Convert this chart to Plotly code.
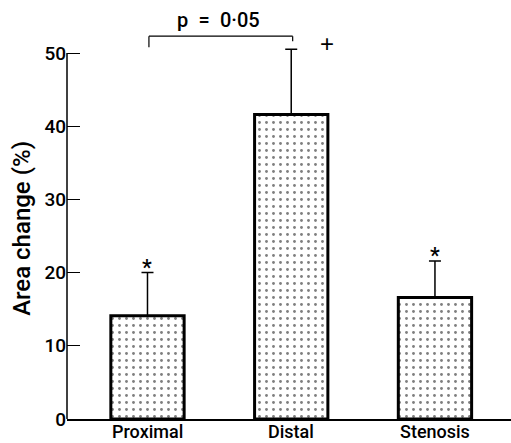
import plotly.graph_objects as go

categories = ["Proximal", "Distal", "Stenosis"]
area_change = [14.1, 41.6, 16.6]
sem_upper = [5.9, 8.9, 5.0]
ytick_vals = [0, 10, 20, 30, 40, 50]

FONT = "Roboto, Liberation Sans, Arial, sans-serif"
W = 500

fig = go.Figure()
fig.add_trace(go.Bar(
    x=list(range(len(categories))),
    y=area_change,
    width=0.51,
    marker=dict(
        color="white",
        line=dict(color="black", width=3),
        pattern=dict(shape=".", fgcolor="black", bgcolor="white", size=7, solidity=0.13),
    ),
    error_y=dict(type="data", symmetric=False, array=sem_upper, arrayminus=[0, 0, 0],
                 color="black", thickness=1.5, width=6),
    cliponaxis=False,
    showlegend=False,
))

shapes = [
    # y axis line from 0 to 50
    dict(type="line", xref="paper", yref="y", x0=0, x1=0, y0=0, y1=50,
         line=dict(color="black", width=1.5)),
    # bracket
    dict(type="line", xref="x", yref="y", x0=0.01, x1=0.01, y0=50.8, y1=52.3,
         line=dict(color="black", width=1.2)),
    dict(type="line", xref="x", yref="y", x0=0.01, x1=1.01, y0=52.3, y1=52.3,
         line=dict(color="black", width=1.2)),
    dict(type="line", xref="x", yref="y", x0=1.01, x1=1.01, y0=51.6, y1=52.3,
         line=dict(color="black", width=1.2)),
]

annotations = [
    dict(x=0.494, y=54.5, xref="x", yref="y", text="p\u2002=\u20020·05", showarrow=False,
         font=dict(size=20, color="black", family=FONT, weight=W)),
    dict(x=1.249, y=51.3, xref="x", yref="y", text="+", showarrow=False,
         font=dict(size=24, color="black", family="Liberation Sans, Arial")),
    dict(x=0, y=area_change[0] + sem_upper[0], xref="x", yref="y", text="*", showarrow=False,
         yanchor="bottom", yshift=-9, font=dict(size=22, color="black", family=FONT, weight=W)),
    dict(x=2, y=area_change[2] + sem_upper[2], xref="x", yref="y", text="*", showarrow=False,
         yanchor="bottom", yshift=-9, font=dict(size=22, color="black", family=FONT, weight=W)),
    dict(x=-0.101, y=26, xref="paper", yref="y", text="Area change (%)", showarrow=False,
         textangle=-90, xanchor="center", yanchor="middle",
         font=dict(size=24, color="black", family=FONT, weight=W)),
]
# category labels under the x axis
for i, name in enumerate(categories):
    annotations.append(dict(x=i, y=0, xref="x", yref="y", text=name, showarrow=False,
                            yanchor="top", yshift=-1, borderpad=0,
                            font=dict(size=18, color="black", family=FONT, weight=W)))

fig.update_layout(
    width=511, height=443,
    margin=dict(l=67, r=0, t=0, b=24),
    plot_bgcolor="white", paper_bgcolor="white",
    font=dict(family=FONT, color="black", size=18, weight=W),
    shapes=shapes,
    annotations=annotations,
    xaxis=dict(
        range=[-0.56, 2.529],
        tickvals=list(range(len(categories))),
        showticklabels=False,
        showline=True, linecolor="black", linewidth=1.5,
        ticks="", showgrid=False, zeroline=False, automargin=False,
    ),
    yaxis=dict(
        range=[0, 57.24],
        tickvals=ytick_vals,
        ticks="inside", ticklen=13, tickwidth=1.2, tickcolor="black",
        showline=False, showgrid=False, zeroline=False, automargin=False,
        tickfont=dict(size=19, weight=W),
    ),
)

fig.write_html("out.html")
